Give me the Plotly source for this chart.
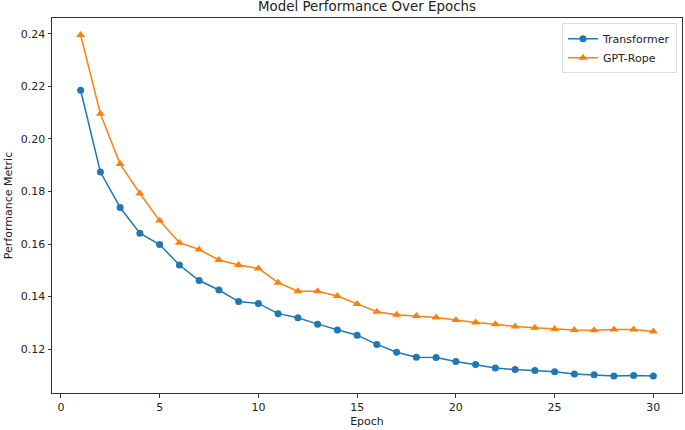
import plotly.graph_objects as go

epochs = list(range(1, 31))
transformer = [0.2185, 0.1874, 0.1739, 0.1641, 0.1598, 0.1520, 0.1461, 0.1425, 0.1381, 0.1374,
               0.1335, 0.1319, 0.1295, 0.1273, 0.1253, 0.1218, 0.1188, 0.1169, 0.1168, 0.1153,
               0.1141, 0.1128, 0.1122, 0.1119, 0.1114, 0.1105, 0.1102, 0.1098, 0.1100, 0.1098]
gpt_rope = [0.2395, 0.2096, 0.1904, 0.1792, 0.1689, 0.1605, 0.1579, 0.1539, 0.1520, 0.1507,
            0.1453, 0.1420, 0.1420, 0.1402, 0.1372, 0.1342, 0.1331, 0.1326, 0.1320, 0.1311,
            0.1301, 0.1295, 0.1286, 0.1281, 0.1277, 0.1273, 0.1272, 0.1275, 0.1275, 0.1267]

x_ticks = [0, 5, 10, 15, 20, 25, 30]
y_ticks = [0.12, 0.14, 0.16, 0.18, 0.20, 0.22, 0.24]

FS = 11
fig = go.Figure()
fig.add_trace(go.Scatter(x=epochs, y=transformer, name="Transformer", mode="lines+markers",
                         line=dict(color="#1f77b4", width=1.5),
                         marker=dict(symbol="circle", size=7, color="#1f77b4")))
fig.add_trace(go.Scatter(x=epochs, y=gpt_rope, name="GPT-Rope", mode="lines+markers",
                         line=dict(color="#ff7f0e", width=1.5),
                         marker=dict(symbol="triangle-up", size=8, color="#ff7f0e")))

axis_common = dict(showline=True, linecolor="#333333", linewidth=1, mirror=True,
                   showgrid=False, zeroline=False, ticks="outside", ticklen=3.5,
                   tickcolor="#333333", automargin=False,
                   tickfont=dict(family="DejaVu Sans", size=FS, color="#222222"))

fig.update_layout(
    width=685, height=430,
    margin=dict(l=52, r=3, t=18, b=37, pad=0),
    paper_bgcolor="white", plot_bgcolor="white",
    title=dict(text="Model Performance Over Epochs", x=0.5, xref="paper", xanchor="center",
               y=0.986, yref="container", yanchor="middle",
               font=dict(family="DejaVu Sans", size=13.4, color="#222222")),
    font=dict(family="DejaVu Sans", size=FS, color="#222222"),
    showlegend=True,
    legend=dict(x=0.992, y=0.986, xanchor="right", yanchor="top",
                bgcolor="rgba(255,255,255,0.8)", bordercolor="#dddddd", borderwidth=1,
                font=dict(family="DejaVu Sans", size=FS), tracegroupgap=0, itemwidth=30),
)
fig.update_xaxes(**axis_common, range=[-0.45, 31.45], tickvals=x_ticks,
                 title=dict(text="Epoch", font=dict(family="DejaVu Sans", size=FS), standoff=4))
fig.update_yaxes(**axis_common, range=[0.1033, 0.2460], tickvals=y_ticks,
                 tickformat=".2f",
                 title=dict(text="Performance Metric", font=dict(family="DejaVu Sans", size=FS), standoff=5))

fig.write_html("out.html", config={"displayModeBar": False},
               post_script="document.body.style.margin='0';document.body.style.overflow='hidden';")
